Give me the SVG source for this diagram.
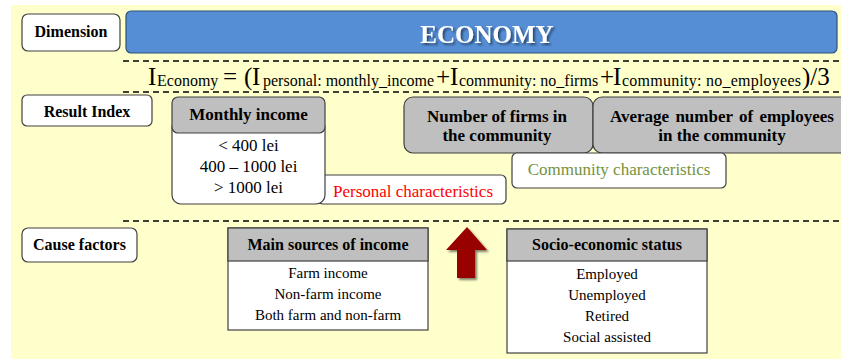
<svg xmlns="http://www.w3.org/2000/svg" width="841" height="360" viewBox="0 0 841 360" font-family="'Liberation Serif', 'Times New Roman', serif">
<defs>
<style>
.lbl{fill:#fff;stroke:#404040;stroke-width:1.2}
.hd{fill:#bfbfbf;stroke:#404040;stroke-width:1.2}
.body{fill:#fff;stroke:#404040;stroke-width:1.2}
.sep{stroke:#000;stroke-width:1.5;stroke-dasharray:6 4;fill:none}
text{font-family:'Liberation Serif','Times New Roman',serif;fill:#000}
.b{font-weight:bold}
.c{text-anchor:middle}
.big{font-size:25px}
.sm{font-size:16px}
</style>
<filter id="sh" x="-20%" y="-20%" width="150%" height="150%">
<feDropShadow dx="2" dy="2" stdDeviation="1.2" flood-color="#000" flood-opacity="0.5"/>
</filter>
</defs>
<rect x="11" y="5" width="830" height="354" fill="#ffffcc"/>

<g id="separators">
<line class="sep" x1="123" y1="61" x2="841" y2="61"/>
<line class="sep" x1="123" y1="92" x2="841" y2="92"/>
<line class="sep" x1="123" y1="221" x2="841" y2="221"/>
</g>

<g id="dimension">
<rect class="lbl" x="22" y="14" width="98" height="37" rx="6"/>
<text class="b c" x="71" y="37" font-size="16">Dimension</text>
</g>
<g id="economy">
<rect x="126" y="11" width="711" height="42" rx="5" fill="#558ed5" stroke="#2f4f7a" stroke-width="1.2"/>
<text class="b c" x="487" y="43" font-size="25" style="fill:#fff" filter="url(#sh)">ECONOMY</text>
</g>

<g id="formula">
<text y="85"><tspan class="big" x="148">I</tspan><tspan class="sm" x="157" y="86">Economy</tspan><tspan class="big" x="223" y="85">=</tspan><tspan class="big" x="244">(</tspan><tspan class="big" x="252">I</tspan><tspan class="sm" x="263" y="86">personal: monthly_income</tspan><tspan class="big" x="436" y="85">+</tspan><tspan class="big" x="450">I</tspan><tspan class="sm" x="459" y="86">community: no_firms</tspan><tspan class="big" x="600" y="85">+</tspan><tspan class="big" x="613">I</tspan><tspan class="sm" x="622" y="86" textLength="179">community: no_employees</tspan><tspan class="big" x="802" y="85">)/3</tspan></text>
</g>

<g id="result-index">
<rect class="lbl" x="22" y="95" width="130" height="31" rx="5"/>
<text class="b c" x="87" y="117" font-size="16">Result Index</text>
</g>

<g id="personal-characteristics">
<rect class="lbl" x="318" y="175" width="188" height="29" rx="5"/>
<text class="c" x="413" y="197" font-size="17" style="fill:#ff0000">Personal characteristics</text>
</g>

<g id="monthly-income">
<rect class="body" x="172" y="118" width="153" height="86" rx="9"/>
<rect class="hd" x="172" y="97" width="153" height="36" rx="6"/>
<text class="b c" x="248.5" y="120" font-size="17">Monthly income</text>
<text class="c" x="248.5" y="151" font-size="17">&lt; 400 lei</text>
<text class="c" x="248.5" y="172" font-size="17">400 – 1000 lei</text>
<text class="c" x="248.5" y="193" font-size="17">&gt; 1000 lei</text>
</g>

<g id="number-of-firms">
<rect class="hd" x="404" y="97" width="189" height="56" rx="9"/>
<text class="b c" x="497" y="122" font-size="17">Number of firms in</text>
<text class="b c" x="497" y="141" font-size="17">the community</text>
</g>

<g id="avg-employees">
<rect class="hd" x="593" y="97" width="258" height="56" rx="9"/>
<text class="b c" x="722" y="122" font-size="17" word-spacing="2">Average number of employees</text>
<text class="b c" x="722" y="141" font-size="17">in the community</text>
</g>

<g id="community-characteristics">
<rect class="lbl" x="512" y="153" width="214" height="35" rx="5"/>
<text class="c" x="619" y="175" font-size="17" style="fill:#76923c">Community characteristics</text>
</g>

<g id="cause-factors">
<rect class="lbl" x="22" y="228" width="115" height="34" rx="6"/>
<text class="b c" x="79.5" y="250" font-size="16">Cause factors</text>
</g>

<g id="main-sources">
<rect class="body" x="228" y="228" width="200" height="102"/>
<rect class="hd" x="228" y="228" width="200" height="33"/>
<text class="b c" x="328" y="250" font-size="16">Main sources of income</text>
<text class="c" x="328" y="278" font-size="15">Farm income</text>
<text class="c" x="328" y="299" font-size="15">Non-farm income</text>
<text class="c" x="328" y="320" font-size="15">Both farm and non-farm</text>
</g>

<g id="socio-economic">
<rect class="body" x="507" y="229" width="200" height="124"/>
<rect class="hd" x="507" y="229" width="200" height="32"/>
<text class="b c" x="607" y="250" font-size="16">Socio-economic status</text>
<text class="c" x="607" y="279" font-size="15">Employed</text>
<text class="c" x="607" y="300" font-size="15">Unemployed</text>
<text class="c" x="607" y="321" font-size="15">Retired</text>
<text class="c" x="607" y="342" font-size="15">Social assisted</text>
</g>

<g id="connectors">
<polygon points="467,227 487,250 475,250 475,278 457,278 457,250 446,250" fill="#990000" filter="url(#sh)"/>
</g>
</svg>
